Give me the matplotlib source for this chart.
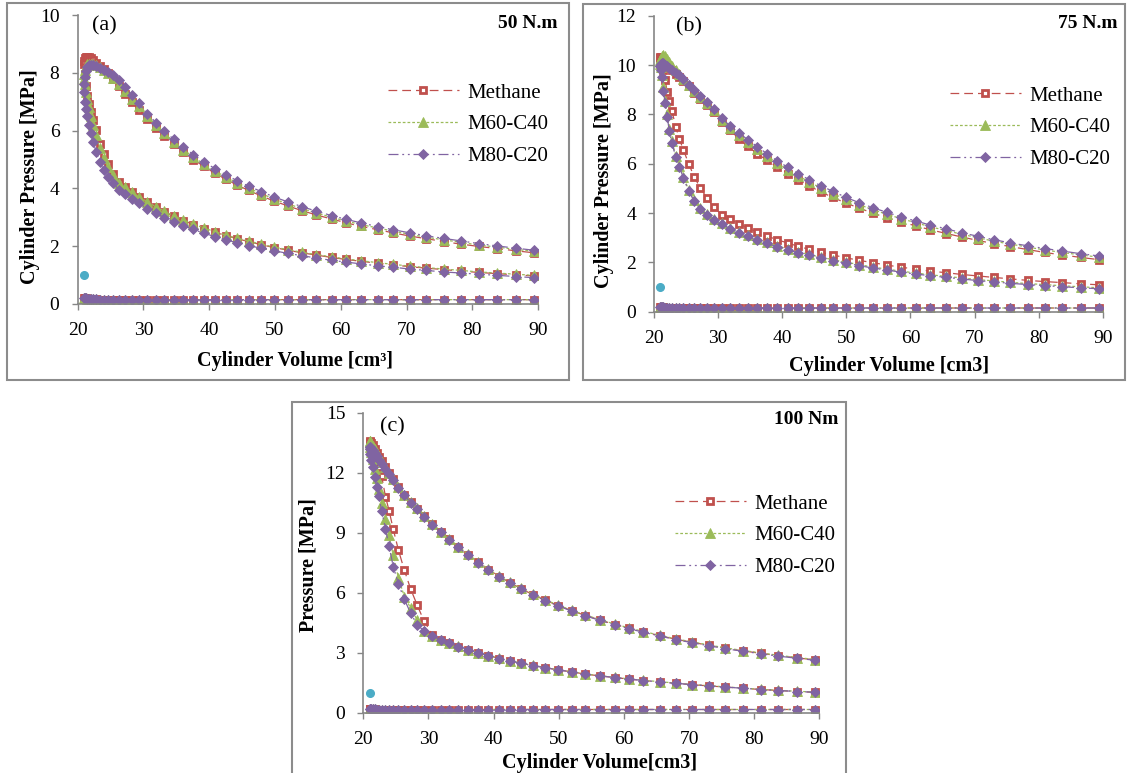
import matplotlib
matplotlib.use("Agg")
import matplotlib.pyplot as plt
from matplotlib.patches import Rectangle

plt.rcParams['font.family'] = 'serif'
plt.rcParams['font.serif'] = ['Liberation Serif', 'DejaVu Serif']

# cylinder volume at each recorded crank step [cm3]
VOL = [21.0, 21.1, 21.25, 21.45, 21.75, 22.05, 22.4, 22.8, 23.4, 23.95,
       24.6, 25.4, 26.3, 27.25, 28.25, 29.3, 30.6, 31.9, 33.2, 34.6,
       36.1, 37.6, 39.2, 40.9, 42.5, 44.2, 46.0, 47.9, 49.9, 52.0,
       54.1, 56.3, 58.6, 60.8, 63.0, 65.6, 68.0, 70.5, 73.0, 75.6,
       78.3, 81.0, 83.7, 86.6, 89.4]

# ---- (a) 50 N.m, pressures [MPa] listed in the same order as VOL
A_CH4_COMP = [8.30, 7.95, 7.55, 7.20, 6.92, 6.65, 6.37, 6.02, 5.55, 5.18,
              4.84, 4.50, 4.22, 4.05, 3.86, 3.70, 3.52, 3.34, 3.19, 3.03,
              2.88, 2.75, 2.61, 2.48, 2.37, 2.26, 2.16, 2.05, 1.95, 1.86,
              1.77, 1.69, 1.61, 1.54, 1.48, 1.41, 1.35, 1.29, 1.24, 1.19,
              1.14, 1.09, 1.05, 1.01, 0.97]
A_CH4_EXP = [8.40, 8.50, 8.55, 8.56, 8.55, 8.50, 8.43, 8.35, 8.25, 8.12,
             7.98, 7.78, 7.55, 7.28, 7.00, 6.73, 6.41, 6.09, 5.81, 5.53,
             5.25, 5.00, 4.76, 4.52, 4.32, 4.12, 3.93, 3.74, 3.56, 3.39,
             3.23, 3.08, 2.94, 2.81, 2.69, 2.57, 2.46, 2.35, 2.26, 2.16,
             2.07, 1.99, 1.92, 1.84, 1.77]
A_M60_COMP = [7.80, 7.60, 7.35, 7.08, 6.80, 6.50, 6.20, 5.85, 5.40, 5.05,
              4.75, 4.45, 4.20, 4.04, 3.87, 3.71, 3.54, 3.36, 3.21, 3.05,
              2.90, 2.77, 2.63, 2.50, 2.39, 2.28, 2.18, 2.07, 1.97, 1.88,
              1.79, 1.71, 1.63, 1.56, 1.50, 1.43, 1.37, 1.31, 1.26, 1.21,
              1.16, 1.11, 1.07, 1.03, 0.99]
A_M60_EXP = [7.95, 8.10, 8.22, 8.30, 8.32, 8.32, 8.30, 8.27, 8.20, 8.10,
             7.98, 7.82, 7.62, 7.38, 7.10, 6.84, 6.50, 6.19, 5.90, 5.62,
             5.34, 5.09, 4.84, 4.60, 4.40, 4.20, 4.01, 3.82, 3.63, 3.46,
             3.30, 3.15, 3.00, 2.87, 2.75, 2.63, 2.52, 2.41, 2.31, 2.22,
             2.13, 2.04, 1.97, 1.89, 1.82]
A_M80_COMP = [7.35, 7.00, 6.75, 6.50, 6.20, 5.93, 5.62, 5.27, 4.92, 4.64,
              4.40, 4.18, 3.96, 3.79, 3.63, 3.48, 3.30, 3.14, 2.99, 2.85,
              2.71, 2.58, 2.45, 2.33, 2.23, 2.12, 2.02, 1.93, 1.84, 1.75,
              1.67, 1.59, 1.51, 1.45, 1.39, 1.32, 1.27, 1.21, 1.16, 1.11,
              1.07, 1.03, 0.99, 0.95, 0.91]
A_M80_EXP = [7.60, 7.85, 8.05, 8.20, 8.27, 8.28, 8.26, 8.22, 8.15, 8.10,
             8.02, 7.92, 7.75, 7.50, 7.22, 6.94, 6.59, 6.28, 5.99, 5.70,
             5.43, 5.17, 4.92, 4.68, 4.48, 4.27, 4.08, 3.89, 3.70, 3.53,
             3.37, 3.21, 3.06, 2.93, 2.81, 2.68, 2.57, 2.46, 2.36, 2.27,
             2.18, 2.09, 2.01, 1.93, 1.86]
LOW_A = [0.22, 0.21, 0.20, 0.19, 0.18, 0.17, 0.16, 0.16, 0.15, 0.15,
         0.15, 0.15, 0.15, 0.15, 0.15, 0.15, 0.15, 0.15, 0.15, 0.15,
         0.15, 0.15, 0.15, 0.15, 0.15, 0.15, 0.15, 0.15, 0.15, 0.15,
         0.15, 0.15, 0.15, 0.15, 0.15, 0.15, 0.15, 0.15, 0.15, 0.15,
         0.15, 0.15, 0.15, 0.15, 0.15]

# ---- (b) 75 N.m
B_CH4_COMP = [10.30, 10.20, 10.05, 9.80, 9.38, 8.92, 8.55, 8.12, 7.50, 7.00,
              6.56, 6.00, 5.46, 5.00, 4.62, 4.23, 3.94, 3.74, 3.57, 3.40,
              3.23, 3.07, 2.92, 2.78, 2.65, 2.53, 2.41, 2.30, 2.19, 2.08,
              1.99, 1.89, 1.80, 1.73, 1.65, 1.58, 1.51, 1.45, 1.39, 1.33,
              1.27, 1.22, 1.18, 1.13, 1.09]
B_CH4_EXP = [10.33, 10.34, 10.30, 10.22, 10.12, 10.02, 9.90, 9.78, 9.62, 9.50,
             9.36, 9.17, 8.88, 8.62, 8.38, 8.10, 7.71, 7.36, 7.02, 6.70,
             6.41, 6.14, 5.88, 5.60, 5.35, 5.10, 4.86, 4.63, 4.41, 4.20,
             4.00, 3.81, 3.64, 3.48, 3.33, 3.17, 3.03, 2.89, 2.76, 2.64,
             2.52, 2.40, 2.30, 2.20, 2.11]
B_M60_COMP = [10.05, 9.90, 9.60, 9.10, 8.55, 8.00, 7.40, 6.90, 6.33, 5.92,
              5.47, 4.94, 4.52, 4.19, 3.95, 3.77, 3.58, 3.41, 3.25, 3.10,
              2.95, 2.81, 2.67, 2.54, 2.43, 2.32, 2.21, 2.11, 2.01, 1.91,
              1.81, 1.73, 1.64, 1.57, 1.50, 1.43, 1.37, 1.30, 1.25, 1.19,
              1.14, 1.10, 1.05, 1.01, 0.97]
B_M60_EXP = [10.20, 10.30, 10.37, 10.40, 10.35, 10.25, 10.12, 9.98, 9.80, 9.64,
             9.45, 9.20, 8.95, 8.72, 8.45, 8.17, 7.79, 7.46, 7.18, 6.88,
             6.59, 6.32, 6.04, 5.76, 5.51, 5.26, 5.02, 4.79, 4.56, 4.34,
             4.14, 3.95, 3.77, 3.61, 3.45, 3.29, 3.14, 3.00, 2.86, 2.74,
             2.62, 2.50, 2.40, 2.30, 2.21]
B_M80_COMP = [9.95, 9.80, 9.50, 8.95, 8.45, 7.91, 7.32, 6.83, 6.27, 5.87,
              5.42, 4.89, 4.47, 4.15, 3.91, 3.73, 3.54, 3.37, 3.21, 3.06,
              2.91, 2.77, 2.63, 2.50, 2.39, 2.28, 2.17, 2.07, 1.97, 1.87,
              1.77, 1.69, 1.60, 1.53, 1.46, 1.39, 1.33, 1.26, 1.21, 1.15,
              1.10, 1.06, 1.01, 0.97, 0.93]
B_M80_EXP = [9.95, 10.05, 10.10, 10.08, 10.02, 9.96, 9.89, 9.81, 9.68, 9.59,
             9.45, 9.20, 8.97, 8.76, 8.50, 8.22, 7.84, 7.52, 7.26, 6.98,
             6.69, 6.41, 6.12, 5.85, 5.60, 5.35, 5.11, 4.88, 4.64, 4.42,
             4.22, 4.03, 3.84, 3.68, 3.52, 3.36, 3.20, 3.06, 2.92, 2.79,
             2.67, 2.56, 2.46, 2.35, 2.26]
LOW_B = [0.20, 0.19, 0.18, 0.18, 0.17, 0.17, 0.16, 0.16, 0.15, 0.15,
         0.15, 0.15, 0.15, 0.15, 0.15, 0.15, 0.15, 0.15, 0.15, 0.15,
         0.15, 0.15, 0.15, 0.15, 0.15, 0.15, 0.15, 0.15, 0.15, 0.15,
         0.15, 0.15, 0.15, 0.15, 0.15, 0.15, 0.15, 0.15, 0.15, 0.15,
         0.15, 0.15, 0.15, 0.15, 0.15]

# ---- (c) 100 Nm
C_CH4_COMP = [13.50, 13.45, 13.35, 13.20, 12.95, 12.65, 12.30, 11.85, 10.80, 10.10,
              9.16, 8.11, 7.12, 6.19, 5.39, 4.59, 3.90, 3.64, 3.47, 3.30,
              3.14, 2.99, 2.84, 2.70, 2.58, 2.46, 2.35, 2.24, 2.13, 2.03,
              1.92, 1.83, 1.75, 1.67, 1.60, 1.53, 1.46, 1.39, 1.33, 1.27,
              1.21, 1.15, 1.10, 1.05, 1.01]
C_CH4_EXP = [13.58, 13.55, 13.48, 13.36, 13.18, 12.98, 12.78, 12.56, 12.26, 11.98,
             11.68, 11.28, 10.88, 10.53, 10.20, 9.83, 9.42, 9.03, 8.66, 8.28,
             7.89, 7.51, 7.15, 6.79, 6.49, 6.19, 5.90, 5.62, 5.35, 5.09,
             4.85, 4.63, 4.40, 4.21, 4.03, 3.84, 3.66, 3.51, 3.36, 3.21,
             3.08, 2.96, 2.84, 2.73, 2.63]
C_M60_COMP = [13.45, 13.30, 13.05, 12.70, 12.20, 11.75, 11.20, 10.50, 9.70, 8.86,
              7.86, 6.72, 5.80, 5.23, 4.64, 4.10, 3.85, 3.65, 3.48, 3.31,
              3.15, 3.00, 2.85, 2.71, 2.59, 2.47, 2.36, 2.25, 2.14, 2.04,
              1.93, 1.84, 1.76, 1.68, 1.61, 1.54, 1.47, 1.40, 1.34, 1.28,
              1.22, 1.16, 1.11, 1.06, 1.02]
C_M60_EXP = [13.60, 13.56, 13.48, 13.35, 13.17, 12.97, 12.77, 12.55, 12.26, 11.98,
             11.68, 11.28, 10.89, 10.54, 10.21, 9.84, 9.44, 9.05, 8.68, 8.30,
             7.91, 7.53, 7.17, 6.81, 6.51, 6.21, 5.92, 5.64, 5.37, 5.11,
             4.87, 4.65, 4.42, 4.23, 4.05, 3.86, 3.68, 3.53, 3.38, 3.23,
             3.10, 2.98, 2.86, 2.75, 2.65]
C_M80_COMP = [13.20, 12.95, 12.65, 12.28, 11.80, 11.30, 10.85, 10.10, 9.20, 8.31,
              7.30, 6.42, 5.66, 4.98, 4.40, 4.08, 3.83, 3.64, 3.47, 3.30,
              3.14, 2.99, 2.84, 2.70, 2.58, 2.46, 2.35, 2.24, 2.13, 2.03,
              1.92, 1.83, 1.75, 1.67, 1.60, 1.53, 1.46, 1.39, 1.33, 1.27,
              1.21, 1.15, 1.10, 1.05, 1.01]
C_M80_EXP = [13.30, 13.28, 13.22, 13.12, 12.98, 12.82, 12.64, 12.45, 12.18, 11.92,
             11.62, 11.25, 10.86, 10.50, 10.17, 9.80, 9.40, 9.01, 8.64, 8.26,
             7.87, 7.49, 7.13, 6.77, 6.47, 6.17, 5.88, 5.60, 5.33, 5.07,
             4.83, 4.61, 4.38, 4.19, 4.01, 3.82, 3.64, 3.49, 3.34, 3.19,
             3.06, 2.94, 2.82, 2.71, 2.61]
LOW_C = [0.18, 0.17, 0.17, 0.16, 0.16, 0.15, 0.15, 0.15, 0.15, 0.15,
         0.15, 0.15, 0.15, 0.15, 0.15, 0.15, 0.15, 0.15, 0.15, 0.15,
         0.15, 0.15, 0.15, 0.15, 0.15, 0.15, 0.15, 0.15, 0.15, 0.15,
         0.15, 0.15, 0.15, 0.15, 0.15, 0.15, 0.15, 0.15, 0.15, 0.15,
         0.15, 0.15, 0.15, 0.15, 0.15]

# single inlet point shown in every panel
INLET_V = [21.0]
INLET_P = [1.0]

FUELS = ['Methane', 'M60-C40', 'M80-C20']

RED = '#C0504D'
GREEN = '#9BBB59'
PURPLE = '#8064A2'
BLUE = '#4BACC6'
GRAY = '#868686'

STYLE = {
    'Methane': dict(color=RED, ls=(0, (7, 4)), marker='s', ms=4.2,
                    mfc='white', mec=RED, mew=2.0),
    'M60-C40': dict(color=GREEN, ls=(0, (2.2, 1.6)), marker='^', ms=7,
                    mfc=GREEN, mec=GREEN, mew=0.6),
    'M80-C20': dict(color=PURPLE, ls=(0, (8, 3, 1.5, 3, 1.5, 3)), marker='D', ms=5.6,
                    mfc=PURPLE, mec=PURPLE, mew=0.6),
}

W, H = 1127, 773


def fx(px):
    return px / W


def fy(py):
    return 1 - py / H


def cycle(comp, expn, low):
    nan = float('nan')
    x = VOL[::-1] + VOL + [nan] + VOL
    y = comp[::-1] + expn + [nan] + low
    return x, y


def panel(box, frame, data, low, ymax, ystep, tag, load, xlab, ylab, spots):
    left, top, right, bottom = box
    fig.add_artist(Rectangle((fx(frame[0]), fy(frame[3])),
                             fx(frame[2] - frame[0]), (frame[3] - frame[1]) / H,
                             transform=fig.transFigure, fill=False,
                             edgecolor='#8C8C8C', lw=1.5))
    ax = fig.add_axes([fx(left), fy(bottom), fx(right - left), (bottom - top) / H])
    for name, (comp, expn) in zip(FUELS, data):
        x, y = cycle(comp, expn, low)
        ax.plot(x, y, lw=0.9, label=name, **STYLE[name])
    ax.plot(INLET_V, INLET_P, 'o', color=BLUE, ms=5.5)

    ax.set_xlim(20, 90)
    ax.set_ylim(0, ymax)
    ax.set_xticks(range(20, 91, 10))
    ax.set_yticks(range(0, ymax + 1, ystep))
    for s in ['top', 'right']:
        ax.spines[s].set_visible(False)
    for s in ['left', 'bottom']:
        ax.spines[s].set_color(GRAY)
        ax.spines[s].set_linewidth(1.2)
    ax.tick_params(direction='out', length=4, width=1, color=GRAY,
                   labelsize=14, labelcolor='black')
    ax.tick_params(axis='x', pad=9)
    ax.tick_params(axis='y', pad=9)

    ax.legend(loc='upper left', bbox_to_anchor=(fx(spots['leg'][0]), fy(spots['leg'][1])),
              bbox_transform=fig.transFigure, frameon=False, fontsize=15,
              handlelength=3.4, handletextpad=0.4, labelspacing=0.58,
              borderpad=0, borderaxespad=0)

    fig.text(fx(spots['tag'][0]), fy(spots['tag'][1]), tag, fontsize=16,
             ha='center', va='center')
    fig.text(fx(spots['load'][0]), fy(spots['load'][1]), load, fontsize=14,
             fontweight='bold', ha='right', va='center')
    fig.text(fx(spots['xlab'][0]), fy(spots['xlab'][1]), xlab, fontsize=14.5,
             fontweight='bold', ha='center', va='center')
    fig.text(fx(spots['ylab'][0]), fy(spots['ylab'][1]), ylab, fontsize=14.5,
             fontweight='bold', ha='center', va='center', rotation=90)
    return ax


fig = plt.figure(figsize=(W / 100, H / 100), dpi=100)

panel((77.5, 15, 538.3, 304), (7, 3, 569, 380),
      [(A_CH4_COMP, A_CH4_EXP), (A_M60_COMP, A_M60_EXP), (A_M80_COMP, A_M80_EXP)],
      LOW_A, 10, 2, '(a)', '50 N.m', 'Cylinder Volume [cm³]', 'Cylinder Pressure [MPa]',
      dict(leg=(388, 83), tag=(104, 26), load=(558, 23), xlab=(295, 361), ylab=(30, 177)))

panel((654, 15.7, 1102.7, 311.7), (583, 4, 1125, 380),
      [(B_CH4_COMP, B_CH4_EXP), (B_M60_COMP, B_M60_EXP), (B_M80_COMP, B_M80_EXP)],
      LOW_B, 12, 2, '(b)', '75 N.m', 'Cylinder Volume [cm3]', 'Cylinder Pressure [MPa]',
      dict(leg=(950, 86), tag=(689, 27), load=(1118, 23), xlab=(889, 366), ylab=(604, 181)))

panel((363.3, 412.5, 819.3, 712.5), (292, 402, 846, 780),
      [(C_CH4_COMP, C_CH4_EXP), (C_M60_COMP, C_M60_EXP), (C_M80_COMP, C_M80_EXP)],
      LOW_C, 15, 3, '(c)', '100 Nm', 'Cylinder Volume[cm3]', 'Pressure [MPa]',
      dict(leg=(675, 494), tag=(392, 427), load=(838, 420), xlab=(600, 763), ylab=(308, 565)))

fig.savefig('out.png', dpi=100)
